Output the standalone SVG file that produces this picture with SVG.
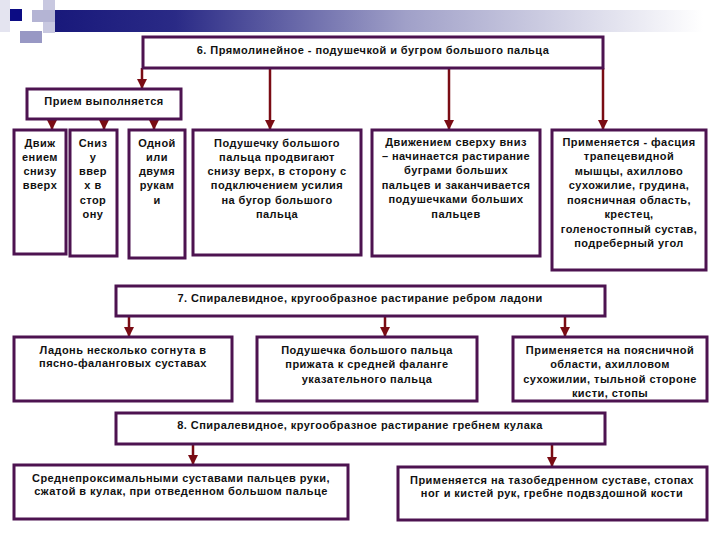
<svg xmlns="http://www.w3.org/2000/svg" width="720" height="540" viewBox="0 0 720 540">
<style>
.box{fill:#ffffff;stroke:#4d1350;stroke-width:3}
.con{stroke:#7a0c14;stroke-width:2.5;fill:none}
text{font-family:"Liberation Sans",Arial,sans-serif;font-size:11px;font-weight:bold;letter-spacing:0.45px;fill:#111;text-anchor:middle}
</style>
<defs>
<linearGradient id="bar" x1="0" y1="0" x2="1" y2="0">
<stop offset="0" stop-color="#17177a"/>
<stop offset="0.2" stop-color="#2a2a86"/>
<stop offset="0.55" stop-color="#a0a0c8"/>
<stop offset="1" stop-color="#ffffff"/>
</linearGradient>
<marker id="ah" viewBox="0 0 10 10" refX="9" refY="5" markerWidth="4" markerHeight="4" orient="auto" markerUnits="strokeWidth">
<path d="M0,0 L10,5 L0,10 z" fill="#7a0c14"/>
</marker>
</defs>
<g id="header">
<rect x="43" y="10" width="660" height="22" fill="url(#bar)"/>
<rect x="0" y="0" width="10" height="32" fill="#e4e4f0"/>
<rect x="43" y="0" width="12" height="33" fill="#c8c8e0"/>
<rect x="32" y="10" width="23" height="12" fill="#b4b4d4"/>
<rect x="20" y="31" width="22" height="12" fill="#9898c4"/>
<rect x="10" y="9" width="12" height="12" fill="#0c0c84"/>
</g>
<g id="connectors">
<line class="con" x1="142" y1="68" x2="142" y2="88" marker-end="url(#ah)"/>
<line class="con" x1="270" y1="68" x2="270" y2="129" marker-end="url(#ah)"/>
<line class="con" x1="449" y1="68" x2="449" y2="129" marker-end="url(#ah)"/>
<line class="con" x1="603" y1="68" x2="603" y2="129" marker-end="url(#ah)"/>
<line class="con" x1="52" y1="119" x2="52" y2="129" marker-end="url(#ah)"/>
<line class="con" x1="104" y1="119" x2="104" y2="129" marker-end="url(#ah)"/>
<line class="con" x1="154" y1="119" x2="154" y2="129" marker-end="url(#ah)"/>
<line class="con" x1="129" y1="316" x2="129" y2="336" marker-end="url(#ah)"/>
<line class="con" x1="385" y1="316" x2="385" y2="336" marker-end="url(#ah)"/>
<line class="con" x1="565" y1="316" x2="565" y2="336" marker-end="url(#ah)"/>
<line class="con" x1="193" y1="444" x2="193" y2="464" marker-end="url(#ah)"/>
<line class="con" x1="552" y1="444" x2="552" y2="466" marker-end="url(#ah)"/>
</g>
<g id="n6">
<rect class="box" x="143" y="37" width="460" height="31"/>
<text x="373" y="54">6. Прямолинейное - подушечкой и бугром большого пальца</text>
</g>
<g id="priem">
<rect class="box" x="27" y="89" width="154" height="30"/>
<text x="104" y="105">Прием выполняется</text>
</g>
<g id="b1">
<rect class="box" x="14" y="130" width="52" height="124"/>
<text x="40" y="147">Движ</text>
<text x="40" y="161">ением</text>
<text x="40" y="175">снизу</text>
<text x="40" y="189">вверх</text>
</g>
<g id="b2">
<rect class="box" x="70" y="130" width="47" height="126"/>
<text x="93" y="147">Сниз</text>
<text x="93" y="161">у</text>
<text x="93" y="175">ввер</text>
<text x="93" y="189">х в</text>
<text x="93" y="204">стор</text>
<text x="93" y="218">ону</text>
</g>
<g id="b3">
<rect class="box" x="129" y="130" width="56" height="128"/>
<text x="157" y="147">Одной</text>
<text x="157" y="161">или</text>
<text x="157" y="175">двумя</text>
<text x="157" y="189">рукам</text>
<text x="157" y="204">и</text>
</g>
<g id="b4">
<rect class="box" x="193" y="130" width="168" height="125"/>
<text x="277" y="147">Подушечку большого</text>
<text x="277" y="161">пальца продвигают</text>
<text x="277" y="175">снизу верх, в сторону с</text>
<text x="277" y="189">подключением усилия</text>
<text x="277" y="204">на бугор большого</text>
<text x="277" y="218">пальца</text>
</g>
<g id="b5">
<rect class="box" x="372" y="130" width="168" height="126"/>
<text x="456" y="146">Движением сверху вниз</text>
<text x="456" y="160">– начинается растирание</text>
<text x="456" y="174">буграми больших</text>
<text x="456" y="189">пальцев и заканчивается</text>
<text x="456" y="203">подушечками больших</text>
<text x="456" y="218">пальцев</text>
</g>
<g id="b6">
<rect class="box" x="552" y="130" width="154" height="140"/>
<text x="629" y="146">Применяется - фасция</text>
<text x="629" y="160">трапецевидной</text>
<text x="629" y="175">мышцы, ахиллово</text>
<text x="629" y="189">сухожилие, грудина,</text>
<text x="629" y="204">поясничная область,</text>
<text x="629" y="218">крестец,</text>
<text x="629" y="233">голеностопный сустав,</text>
<text x="629" y="247">подреберный угол</text>
</g>
<g id="n7">
<rect class="box" x="116" y="286" width="489" height="30"/>
<text x="360" y="302">7. Спиралевидное, кругообразное растирание ребром ладони</text>
</g>
<g id="c1">
<rect class="box" x="14" y="337" width="218" height="64"/>
<text x="123" y="354">Ладонь несколько согнута в</text>
<text x="123" y="367">пясно-фаланговых суставах</text>
</g>
<g id="c2">
<rect class="box" x="257" y="337" width="220" height="64"/>
<text x="367" y="354">Подушечка большого пальца</text>
<text x="367" y="368">прижата к  средней фаланге</text>
<text x="367" y="383">указательного пальца</text>
</g>
<g id="c3">
<rect class="box" x="513" y="337" width="194" height="64"/>
<text x="610" y="354">Применяется на поясничной</text>
<text x="610" y="368">области, ахилловом</text>
<text x="610" y="383">сухожилии, тыльной стороне</text>
<text x="610" y="397">кисти, стопы</text>
</g>
<g id="n8">
<rect class="box" x="116" y="413" width="489" height="31"/>
<text x="360" y="429">8. Спиралевидное, кругообразное растирание гребнем кулака</text>
</g>
<g id="d1">
<rect class="box" x="14" y="465" width="334" height="54"/>
<text x="181" y="482">Среднепроксимальными суставами пальцев руки,</text>
<text x="181" y="495">сжатой в кулак, при отведенном большом пальце</text>
</g>
<g id="d2">
<rect class="box" x="398" y="467" width="309" height="53"/>
<text x="552" y="484">Применяется на тазобедренном суставе, стопах</text>
<text x="552" y="497">ног и кистей рук, гребне подвздошной кости</text>
</g>
</svg>
